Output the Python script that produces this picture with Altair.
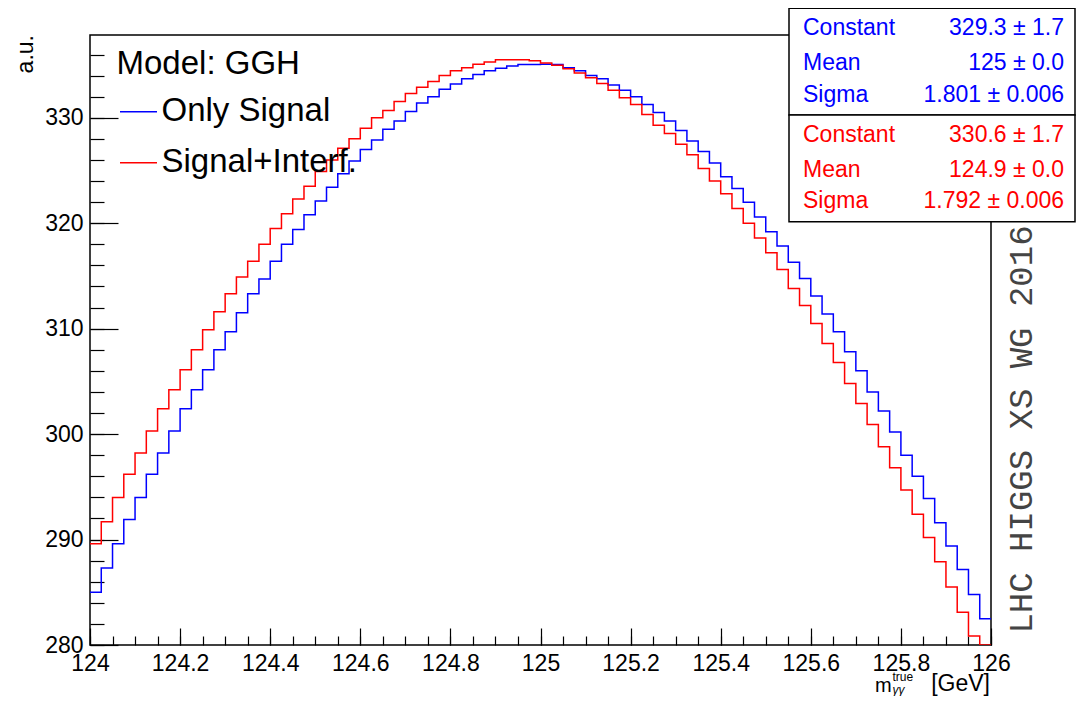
import altair as alt
import pandas as pd

# ---------------- data ----------------
BIN_START = 124.0
BIN_WIDTH = 0.025
X_END = 126.0

only_signal = [
    285.0, 287.3, 289.6, 291.9, 294.0, 296.2, 298.2, 300.3, 302.4, 304.2,
    306.1, 308.0, 309.7, 311.5, 313.3, 314.7, 316.4, 318.0, 319.4, 320.8,
    322.1, 323.4, 324.7, 325.9, 327.0, 327.9, 328.9, 329.7, 330.6, 331.4,
    332.0, 332.7, 333.2, 333.7, 334.1, 334.45, 334.7, 334.9, 335.05, 335.05,
    335.07, 335.05, 334.75, 334.45, 334.0, 333.7, 333.1, 332.6, 332.0, 331.25,
    330.5, 329.7, 328.8, 327.8, 326.8, 325.7, 324.4, 323.3, 322.0, 320.6,
    319.2, 317.85, 316.3, 314.75, 313.1, 311.4, 309.7, 307.8, 306.0, 304.0,
    302.2, 300.2, 298.0, 296.0, 293.9, 291.6, 289.4, 287.15, 284.8, 282.5,
]

signal_interf = [
    289.6, 291.7, 294.0, 296.2, 298.2, 300.3, 302.4, 304.2, 306.1, 308.0,
    309.9, 311.6, 313.3, 314.9, 316.4, 318.0, 319.5, 320.9, 322.3, 323.5,
    324.9, 326.0, 327.1, 328.0, 329.0, 330.0, 330.7, 331.55, 332.3, 332.9,
    333.45, 334.0, 334.45, 334.75, 335.07, 335.3, 335.5, 335.5, 335.5, 335.4,
    335.2, 334.98, 334.66, 334.25, 333.8, 333.25, 332.6, 331.9, 331.25, 330.3,
    329.3, 328.5, 327.5, 326.5, 325.2, 324.0, 322.8, 321.4, 320.0, 318.6,
    317.2, 315.6, 313.8, 312.2, 310.5, 308.6, 306.8, 304.8, 302.9, 300.9,
    298.8, 296.8, 294.7, 292.4, 290.2, 287.9, 285.5, 283.1, 280.85, 280.0,
]

x_major_ticks = [124.0, 124.2, 124.4, 124.6, 124.8, 125.0, 125.2, 125.4, 125.6, 125.8, 126.0]
x_minor_ticks = [round(124.0 + 0.05 * i, 2) for i in range(41)]
y_major_ticks = [280, 290, 300, 310, 320, 330]
y_minor_ticks = list(range(280, 338, 2))
Y_DOMAIN = [280, 337.85]

legend_model = "Model: GGH"
legend_names = ["Only Signal", "Signal+Interf."]
stat_names = ["Constant", "Mean", "Sigma"]
stat_signal = ["329.3 \u00b1 1.7", "125 \u00b1 0.0", "1.801 \u00b1 0.006"]
stat_interf = ["330.6 \u00b1 1.7", "124.9 \u00b1 0.0", "1.792 \u00b1 0.006"]
watermark = "LHC HIGGS XS WG 2016"

BLUE = "#0000ff"
RED = "#ff0000"
FONT = "Liberation Sans"
MONO = "Liberation Mono"

W, H = 901, 610


def hist_frame(values):
    xs = [BIN_START + i * BIN_WIDTH for i in range(len(values))] + [X_END]
    ys = list(values) + [values[-1]]
    return pd.DataFrame({"x": xs, "y": ys})


df_sig = hist_frame(only_signal)
df_int = hist_frame(signal_interf)

xscale = alt.Scale(domain=[BIN_START, X_END], nice=False, zero=False)
yscale = alt.Scale(domain=Y_DOMAIN, nice=False, zero=False)

common_axis = dict(grid=False, domain=False, title=None)

# Blue histogram: carries labelled axes (no ticks)
blue = alt.Chart(df_sig).mark_line(
    interpolate="step-after", color=BLUE, strokeWidth=1.5, clip=True
).encode(
    x=alt.X("x:Q", scale=xscale, axis=alt.Axis(
        orient="bottom", values=x_major_ticks, format=".1~f", ticks=False,
        labelFont=FONT, labelFontSize=23, labelColor="black", labelPadding=7,
        labelFlush=False, labelOverlap=False, **common_axis)),
    y=alt.Y("y:Q", scale=yscale, axis=alt.Axis(
        orient="left", values=y_major_ticks, format="d", ticks=False,
        labelFont=FONT, labelFontSize=23, labelColor="black", labelPadding=7,
        labelFlush=False, labelOverlap=False, **common_axis)),
)

# Red histogram: carries the major inward ticks
red = alt.Chart(df_int).mark_line(
    interpolate="step-after", color=RED, strokeWidth=1.5, clip=True
).encode(
    x=alt.X("x:Q", scale=xscale, axis=alt.Axis(
        orient="top", offset=-H, values=x_major_ticks, labels=False,
        ticks=True, tickSize=17, tickColor="black", tickWidth=1.2, **common_axis)),
    y=alt.Y("y:Q", scale=yscale, axis=alt.Axis(
        orient="right", offset=-W, values=y_major_ticks, labels=False,
        ticks=True, tickSize=28, tickColor="black", tickWidth=1.2, **common_axis)),
)

# invisible layer carrying the minor inward ticks
minor = alt.Chart(df_sig).mark_point(opacity=0).encode(
    x=alt.X("x:Q", scale=xscale, axis=alt.Axis(
        orient="top", offset=-H, values=x_minor_ticks, labels=False,
        ticks=True, tickSize=9, tickColor="black", tickWidth=1.2, **common_axis)),
    y=alt.Y("y:Q", scale=yscale, axis=alt.Axis(
        orient="right", offset=-W, values=y_minor_ticks, labels=False,
        ticks=True, tickSize=14, tickColor="black", tickWidth=1.2, **common_axis)),
)


def text(t, x, y, size, color="black", align="left", baseline="alphabetic",
         angle=0, font=FONT, style="normal"):
    return alt.Chart(pd.DataFrame({"t": [t]})).mark_text(
        align=align, baseline=baseline, fontSize=size, font=font, color=color,
        angle=angle, fontStyle=style,
    ).encode(text="t:N", x=alt.value(x), y=alt.value(y))


def seg(x1, x2, y, color, width=1.5):
    return alt.Chart(pd.DataFrame({"a": [0]})).mark_rule(
        color=color, strokeWidth=width
    ).encode(x=alt.value(x1), x2=alt.value(x2), y=alt.value(y))


def box(x1, x2, y1, y2):
    return alt.Chart(pd.DataFrame({"a": [0]})).mark_rect(
        fill="white", stroke="black", strokeWidth=1.5
    ).encode(x=alt.value(x1), x2=alt.value(x2), y=alt.value(y1), y2=alt.value(y2))


layers = [blue, red, minor]

# legend (transparent, drawn over curves)
layers.append(text(legend_model, 26.5, 38.5, 33))
legend_colors = [BLUE, RED]
legend_rows = [76.7, 127.7]
for name, col, yy in zip(legend_names, legend_colors, legend_rows):
    layers.append(seg(30, 67, yy, col))
    layers.append(text(name, 71.5, yy + 9.5, 33))

# stats boxes
BOX_X1, BOX_X2 = 699, 985
box_tops = [-26.7, 80.0]
box_bottoms = [80.0, 186.7]
row_offsets = [0.0, 35.0, 66.7]
first_baselines = [0.0, 106.7]
for top, bot, base, col, vals in zip(box_tops, box_bottoms, first_baselines,
                                     legend_colors, [stat_signal, stat_interf]):
    layers.append(box(BOX_X1, BOX_X2, top, bot))
    for name, val, off in zip(stat_names, vals, row_offsets):
        layers.append(text(name, 713, base + off, 23, color=col))
        layers.append(text(val, 974, base + off, 23, color=col, align="right"))

# watermark
layers.append(text(watermark, 942, 394.5, 34, color="#444444", align="center",
                   angle=270, font=MONO))

# axis titles
layers.append(text("a.u.", -57, 0, 23, align="right", angle=270))
layers.append(text("m", 785, 657, 20))
layers.append(text("true", 802.5, 645.5, 12))
layers.append(text("\u03b3\u03b3", 802.5, 658.5, 12, style="italic"))
layers.append(text("[GeV]", 900, 656, 23, align="right"))

chart = alt.layer(*layers).resolve_axis(
    x="independent", y="independent"
).properties(
    width=W, height=H,
    autosize=alt.AutoSizeParams(type="none"),
    padding={"left": 82, "top": 27, "right": 85, "bottom": 51},
    background="white",
).configure_view(
    stroke="black", strokeWidth=1.5, fill="white"
)

chart.save("out.html", embed_options={"renderer": "svg", "actions": False})
